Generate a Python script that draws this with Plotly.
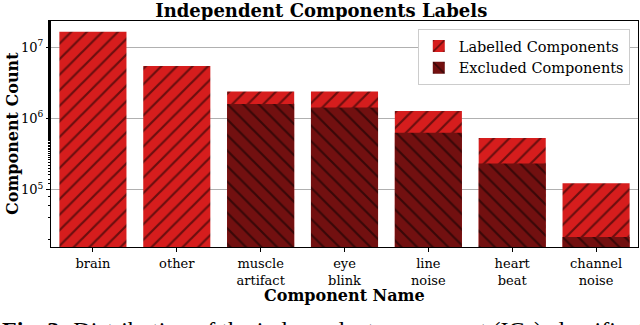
import plotly.graph_objects as go

categories = ["brain", "other", "muscle<br>artifact", "eye<br>blink", "line<br>noise", "heart<br>beat", "channel<br>noise"]
labelled = [1.64e7, 5.4e6, 2.38e6, 2.38e6, 1.26e6, 5.28e5, 1.22e5]
excluded = [None, None, 1.59e6, 1.42e6, 6.27e5, 2.32e5, 2.15e4]
ytick_vals = [1e5, 1e6, 1e7]
ytick_text = ["10<sup>5</sup>", "10<sup>6</sup>", "10<sup>7</sup>"]

FONT = "DejaVu Serif"

fig = go.Figure()
fig.add_trace(go.Bar(
    x=categories, y=labelled, name="Labelled Components",
    marker=dict(color="#d61d1d", line=dict(width=0),
                pattern=dict(shape="/", fgcolor="black", size=11, solidity=0.2)),
    width=0.8,
))
fig.add_trace(go.Bar(
    x=categories, y=excluded, name="Excluded Components",
    marker=dict(color="#721010", line=dict(width=0),
                pattern=dict(shape="\\", fgcolor="black", size=11, solidity=0.2)),
    width=0.8,
))

fig.update_layout(
    width=640, height=325,
    margin=dict(l=51, r=2, t=21, b=78, autoexpand=False),
    barmode="overlay",
    plot_bgcolor="white", paper_bgcolor="white",
    font=dict(family=FONT, color="black", size=13),
    title=dict(text="<b>Independent Components Labels</b>", x=0.502, xanchor="center",
               yref="container", y=0.988, yanchor="top", font=dict(size=18, family=FONT)),
    legend=dict(x=0.986, xanchor="right", y=0.9646, yanchor="top",
                bgcolor="white", bordercolor="#cccccc", borderwidth=1,
                font=dict(size=14.5, family=FONT, color="black"), tracegroupgap=2,
                itemwidth=30),
    showlegend=True,
)
fig.update_xaxes(
    range=[-0.5, 6.5], showline=True, linecolor="black", linewidth=1, mirror=True,
    ticks="outside", ticklen=4, tickcolor="black", tickfont=dict(size=13, family=FONT),
    showgrid=False, automargin=False,
)
fig.update_yaxes(
    type="log", range=[4.192, 7.366],
    showline=True, linecolor="black", linewidth=1, mirror=True,
    ticks="outside", ticklen=4, tickcolor="black",
    tickvals=ytick_vals, ticktext=ytick_text, tickfont=dict(size=13, family=FONT),
    showgrid=True, gridcolor="#b0b0b0", gridwidth=1,
    minor=dict(ticks="outside", ticklen=2, tickcolor="black", showgrid=False),
    automargin=False,
)
fig.add_annotation(
    text="<b>Component Count</b>", textangle=-90,
    xref="paper", yref="paper", x=-0.0664, y=0.5, xanchor="center", yanchor="middle",
    showarrow=False, font=dict(size=16, family=FONT),
)
fig.add_annotation(
    text="<b>Component Name</b>",
    xref="paper", yref="paper", x=0.5, y=-0.215, xanchor="center", yanchor="middle",
    showarrow=False, font=dict(size=16, family=FONT),
)
fig.add_annotation(
    text="<b>Fig. 3:</b> Distribution of the independent component (ICs) classification",
    xref="paper", yref="paper", x=-0.087, xanchor="left", y=-0.30, yanchor="top",
    showarrow=False, font=dict(size=24, family="Liberation Serif"),
)
fig.write_html("out.html", config={"displayModeBar": False},
               post_script="document.body.style.margin='0px';")
